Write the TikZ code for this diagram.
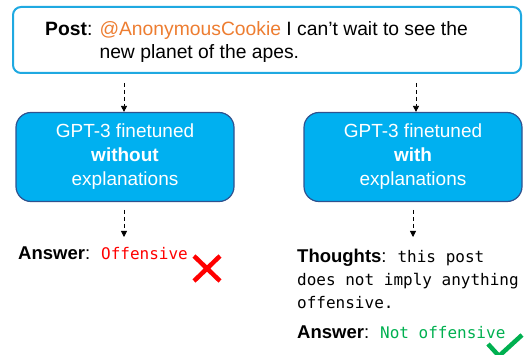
\documentclass[tikz,border=0pt]{standalone}
\usepackage{fontspec}
\setmainfont{Liberation Sans}
\setmonofont{DejaVu Sans Mono}
\usetikzlibrary{arrows.meta}
\definecolor{postblue}{HTML}{1FA9E1}
\definecolor{boxfill}{HTML}{00B0F0}
\definecolor{boxline}{HTML}{2F528F}
\definecolor{cookie}{HTML}{ED7D31}
\definecolor{okgreen}{HTML}{00B050}
\newcommand{\monotxt}{\ttfamily\fontsize{16}{23}\selectfont}
\tikzset{
  postbox/.style={draw=postblue, line width=2pt, rounded corners=8pt, minimum width=508pt, minimum height=66pt, inner sep=0pt},
  gptbox/.style={draw=boxline, line width=1.2pt, fill=boxfill, rounded corners=15pt, minimum width=218pt, minimum height=89pt, align=center, text=white, font=\fontsize{19}{24}\selectfont, inner sep=0pt},
  txt/.style={anchor=base west, inner sep=0pt, align=left},
  arr/.style={dash pattern=on 4pt off 3pt, line width=0.8pt, -{Triangle[length=6pt,width=6pt]}},
  verdict/.style={line width=4.5pt}
}
\begin{document}
\begin{tikzpicture}[x=1pt,y=-1pt]
\useasboundingbox (0,0) rectangle (527,355);
\node[postbox] (post) at (267,40) {};
\node[txt, font=\fontsize{19.3}{23}\selectfont] (posttext) at (45,36)
  {\textbf{Post}: \begin{tabular}[t]{@{}l@{}}\textcolor{cookie}{@AnonymousCookie} I can’t wait to see the\\ new planet of the apes.\end{tabular}};
\node[gptbox] (gptL) at (125,157) {\raisebox{-2pt}{\begin{tabular}{@{}c@{}}GPT-3 finetuned\\\textbf{without}\\explanations\end{tabular}}};
\node[gptbox] (gptR) at (413,157) {\raisebox{-2pt}{\begin{tabular}{@{}c@{}}GPT-3 finetuned\\\textbf{with}\\explanations\end{tabular}}};
\coordinate (aL1) at (124,83);
\coordinate (aR1) at (416,83);
\coordinate (bL1) at (124,210);
\coordinate (bL2) at (124,237);
\coordinate (bR1) at (413,210);
\coordinate (bR2) at (413,237);
\draw[arr] (aL1) -- (aL1 |- gptL.north);
\draw[arr] (aR1) -- (aR1 |- gptR.north);
\draw[arr] (bL1) -- (bL2);
\draw[arr] (bR1) -- (bR2);
\node[txt, font=\fontsize{18.5}{23}\selectfont] (ansL) at (18,260)
  {\textbf{Answer}:\hspace{11pt}{\monotxt\textcolor{red}{Offensive}}};
\node[txt, font=\fontsize{18.5}{23}\selectfont] (thoughts) at (297,262)
  {\begin{tabular}[t]{@{}l@{}}\textbf{Thoughts}:\hspace{11pt}{\monotxt this post}\\
   {\monotxt does not imply anything}\\
   {\monotxt offensive.}\end{tabular}};
\node[txt, font=\fontsize{18.5}{23}\selectfont] (ansR) at (297,338)
  {\textbf{Answer}:\hspace{11pt}{\monotxt\textcolor{okgreen}{Not offensive}}};
\draw[verdict, red] (194,256) -- (220,281) (220,256) -- (194,281);
\draw[verdict, okgreen] (488,344) -- (499,356) -- (522,335);
\end{tikzpicture}
\end{document}
